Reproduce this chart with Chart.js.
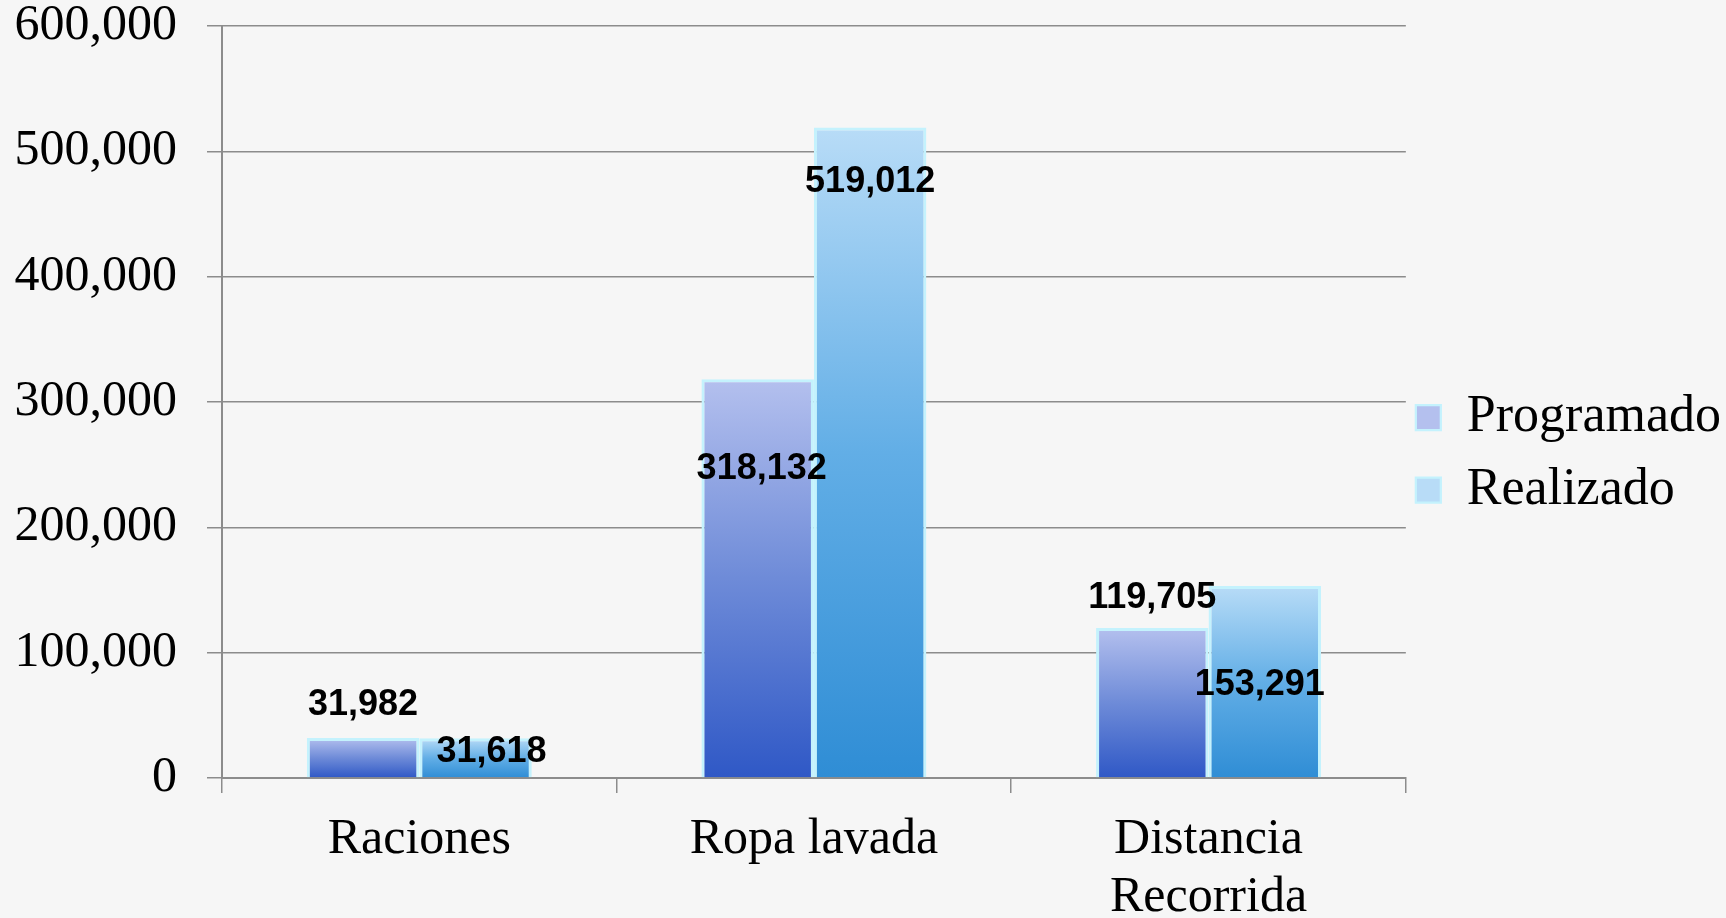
<!DOCTYPE html>
<html>
<head>
<meta charset="utf-8">
<script src="https://cdn.jsdelivr.net/npm/chart.js@4.4.1/dist/chart.umd.min.js"></script>
<style>
  html, body { margin: 0; padding: 0; background: #f6f6f6; }
  #wrap { width: 1726px; height: 918px; }
</style>
</head>
<body>
<div id="wrap"><canvas id="chart" width="1726" height="918"></canvas></div>
<script>
// chart data
const categories = ['Raciones', 'Ropa lavada', ['Distancia', 'Recorrida']]
const programado = [31982, 318132, 119705]
const realizado = [31618, 519012, 153291]
const yTicks = [0, 100000, 200000, 300000, 400000, 500000, 600000]

// where each value label sits, relative to the top of its bar (px)
const labelShift = [
  [[0, -33], [4, 90], [0, -30]],
  [[16, 14], [0, 55], [-5, 99]]
]

const GRID = '#8c8c8c'
const SERIF = '"Liberation Serif", "DejaVu Serif", serif'

// vertical gradient per bar, from bar top down to zero line
function barFill(top, mid, bottom, flat) {
  return ctx => {
    const chart = ctx.chart
    if (!chart.chartArea || !ctx.parsed) return flat
    const y = chart.scales.y
    const g = chart.ctx.createLinearGradient(0, y.getPixelForValue(ctx.parsed.y), 0, y.getPixelForValue(0))
    g.addColorStop(0, top)
    g.addColorStop(0.5, mid)
    g.addColorStop(1, bottom)
    return g
  }
}

const valueLabels = {
  id: 'valueLabels',
  afterDatasetsDraw(chart) {
    const c = chart.ctx
    c.save()
    c.font = 'bold 36px "Liberation Sans", Arial, sans-serif'
    c.fillStyle = '#000'
    c.textAlign = 'center'
    c.textBaseline = 'middle'
    chart.data.datasets.forEach((ds, i) => {
      chart.getDatasetMeta(i).data.forEach((bar, j) => {
        const s = labelShift[i][j]
        c.fillText(ds.data[j].toLocaleString('en-US'), bar.x + s[0], bar.y + s[1])
      })
    })
    c.restore()
  }
}

const chart = new Chart(document.getElementById('chart'), {
  type: 'bar',
  data: {
    labels: categories,
    datasets: [
      {
        label: 'Programado',
        data: programado,
        backgroundColor: barFill('#b4c0ee', '#6e8bd8', '#2f58c6', '#3f68d3'),
        borderColor: '#c4f2fd',
        borderWidth: { left: 3, right: 3, top: 3, bottom: 0 },
        borderSkipped: false
      },
      {
        label: 'Realizado',
        data: realizado,
        backgroundColor: barFill('#b8dcf7', '#62aee6', '#2f8dd5', '#44a8e6'),
        borderColor: '#c4f2fd',
        borderWidth: { left: 3, right: 3, top: 3, bottom: 0 },
        borderSkipped: false
      }
    ]
  },
  options: {
    responsive: false,
    animation: false,
    layout: { padding: { top: 0, right: -5, left: 0, bottom: 0 } },
    datasets: { bar: { categoryPercentage: 0.57, barPercentage: 1 } },
    plugins: {
      tooltip: { enabled: false },
      legend: {
        position: 'right',
        labels: {
          boxWidth: 25,
          boxHeight: 25,
          padding: 10,
          color: '#000',
          font: { family: SERIF, size: 52 },
          // text as a one-line array so item height follows the line height
          generateLabels: c => Chart.defaults.plugins.legend.labels.generateLabels(c)
            .map(l => Object.assign(l, { text: [l.text] }))
        }
      }
    },
    scales: {
      x: {
        grid: { offset: true, drawOnChartArea: false, tickLength: 15, color: GRID, lineWidth: 1.5 },
        border: { color: GRID, width: 2 },
        ticks: {
          color: '#000',
          padding: 18,
          maxRotation: 0,
          font: { family: SERIF, size: 50, lineHeight: 1.16 }
        },
        afterFit: s => { s.height = 140 }
      },
      y: {
        min: 0,
        max: 600000,
        afterBuildTicks: s => { s.ticks = yTicks.map(v => ({ value: v })) },
        grid: { tickLength: 15, color: GRID, lineWidth: 1.5 },
        border: { color: GRID, width: 2 },
        ticks: {
          color: '#000',
          padding: 30,
          font: { family: SERIF, size: 50 },
          callback: v => v.toLocaleString('en-US')
        },
        afterFit: s => {
          s.width = 222
          s.paddingTop = 26
          s.paddingBottom = 0
        }
      }
    }
  },
  plugins: [valueLabels]
})
</script>
</body>
</html>
